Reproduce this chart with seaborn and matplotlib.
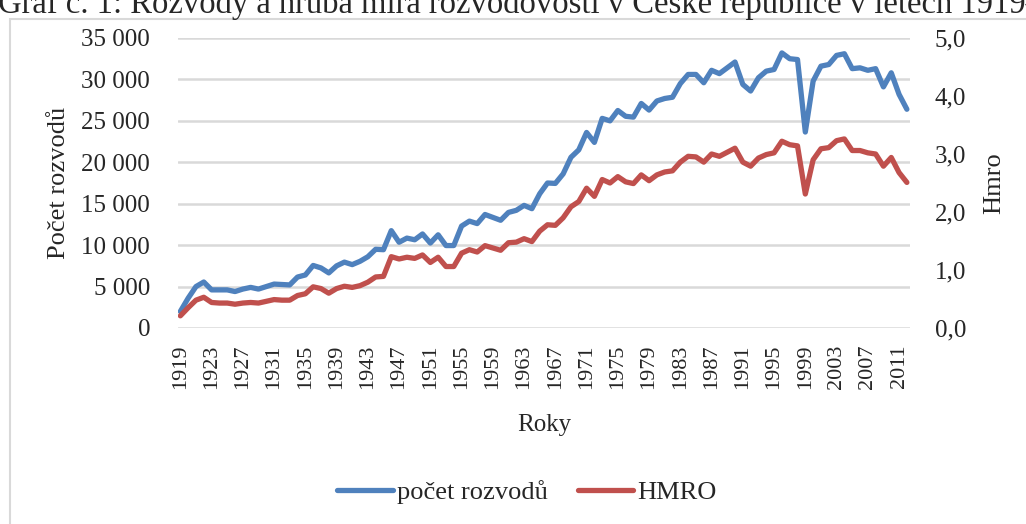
import numpy as np
import pandas as pd
import seaborn as sns
import matplotlib.pyplot as plt
from matplotlib.patches import Rectangle
from matplotlib.ticker import FuncFormatter

# data
roky = list(range(1919, 2013))
pocet_rozvodu = [
    2000, 3600, 5000, 5550, 4600, 4600, 4600, 4400, 4700, 4900,
    4700, 5000, 5300, 5250, 5200, 6150, 6400, 7550, 7250, 6650,
    7500, 7950, 7650, 8050, 8600, 9500, 9450, 11750, 10350, 10850,
    10650, 11350, 10250, 11250, 9950, 9950, 12300, 12900, 12600, 13700,
    13350, 13000, 13950, 14200, 14800, 14400, 16200, 17500, 17450, 18600,
    20600, 21500, 23600, 22400, 25300, 25000, 26250, 25550, 25450, 27100,
    26300, 27400, 27700, 27850, 29500, 30600, 30600, 29600, 31100, 30700,
    31400, 32100, 29400, 28600, 30200, 31000, 31200, 33200, 32500, 32400,
    23650, 29800, 31600, 31800, 32900, 33100, 31300, 31400, 31100, 31300,
    29100, 30800, 28200, 26400,
]
hmro = [
    0.21, 0.35, 0.48, 0.53, 0.44, 0.43, 0.43, 0.41, 0.43, 0.44,
    0.43, 0.46, 0.49, 0.48, 0.48, 0.56, 0.59, 0.71, 0.68, 0.60,
    0.68, 0.72, 0.70, 0.73, 0.79, 0.88, 0.89, 1.23, 1.19, 1.22,
    1.20, 1.26, 1.13, 1.22, 1.06, 1.06, 1.29, 1.35, 1.31, 1.42,
    1.38, 1.34, 1.47, 1.48, 1.54, 1.49, 1.67, 1.78, 1.77, 1.90,
    2.09, 2.18, 2.41, 2.27, 2.56, 2.50, 2.61, 2.52, 2.49, 2.64,
    2.54, 2.64, 2.69, 2.71, 2.86, 2.96, 2.95, 2.86, 3.00, 2.96,
    3.03, 3.10, 2.86, 2.79, 2.93, 2.99, 3.02, 3.22, 3.16, 3.14,
    2.31, 2.90, 3.09, 3.11, 3.23, 3.26, 3.06, 3.06, 3.02, 3.00,
    2.79, 2.94, 2.68, 2.51,
]

df = pd.DataFrame({"rok": roky, "pocet": pocet_rozvodu, "hmro": hmro})

sns.set_theme(style="white")
plt.rcParams["font.family"] = ["Liberation Serif", "DejaVu Serif"]

modra = "#4F81BD"
cervena = "#C0504D"
mrizka = "#D9D9D9"

fig = plt.figure(figsize=(10.26, 5.24), dpi=100)
ax = fig.add_axes([178 / 1026, 1 - 328 / 524, (910 - 178) / 1026, (328 - 38) / 524])
ax2 = ax.twinx()

sns.lineplot(data=df, x="rok", y="pocet", ax=ax, color=modra, linewidth=3.8,
             label="počet rozvodů", legend=False)
sns.lineplot(data=df, x="rok", y="hmro", ax=ax2, color=cervena, linewidth=3.8,
             label="HMRO", legend=False)

ax.set_xlim(1918.7, 2012.4)
ax.set_ylim(0, 35000)
ax2.set_ylim(0, 5)
ax.set_yticks(np.arange(0, 35001, 5000))
ax2.set_yticks(np.arange(0, 5.01, 1))
ax.set_xticks(list(range(1919, 2012, 4)))

ax.yaxis.set_major_formatter(FuncFormatter(lambda v, p: f"{int(v):,}".replace(",", " ")))
ax2.yaxis.set_major_formatter(FuncFormatter(lambda v, p: f"{v:.1f}".replace(".", ",")))

# gridlines follow the left axis, like in Excel
ax.grid(True, axis="y", color=mrizka, linewidth=1.8)
ax.grid(False, axis="x")
ax2.grid(False)
ax.set_axisbelow(True)

for a in (ax, ax2):
    for s in a.spines.values():
        s.set_visible(False)

ax.tick_params(axis="y", length=0, pad=20, labelsize=18)
ax2.tick_params(axis="y", length=0, pad=18, labelsize=18)
ax.tick_params(axis="x", length=0, pad=12, labelsize=16, labelrotation=90)

ax.set_xlabel("Roky", fontsize=18, labelpad=18)
ax.set_ylabel("Počet rozvodů", fontsize=19, labelpad=8)
ax2.set_ylabel("Hmro", fontsize=19, labelpad=12)

h1, l1 = ax.get_legend_handles_labels()
h2, l2 = ax2.get_legend_handles_labels()
fig.legend(h1 + h2, l1 + l2, loc="center", bbox_to_anchor=(527 / 1026, 1 - 492 / 524),
           ncol=2, frameon=False, fontsize=19, handlelength=2.1, handletextpad=0.15,
           columnspacing=1.15)

# chart border and clipped caption at the top
fig.patches.append(Rectangle((10 / 1026, -0.1), 1.2, 1 - 19 / 524 + 0.1,
                             transform=fig.transFigure, fill=False,
                             edgecolor="#D9D9D9", linewidth=1.5))
fig.text(-0.002, 1 - 13 / 524,
         "Graf č. 1: Rozvody a hrubá míra rozvodovosti v České republice v letech 1919–2012",
         fontsize=23.5, ha="left", va="baseline")

fig.savefig("out.png", dpi=100)
